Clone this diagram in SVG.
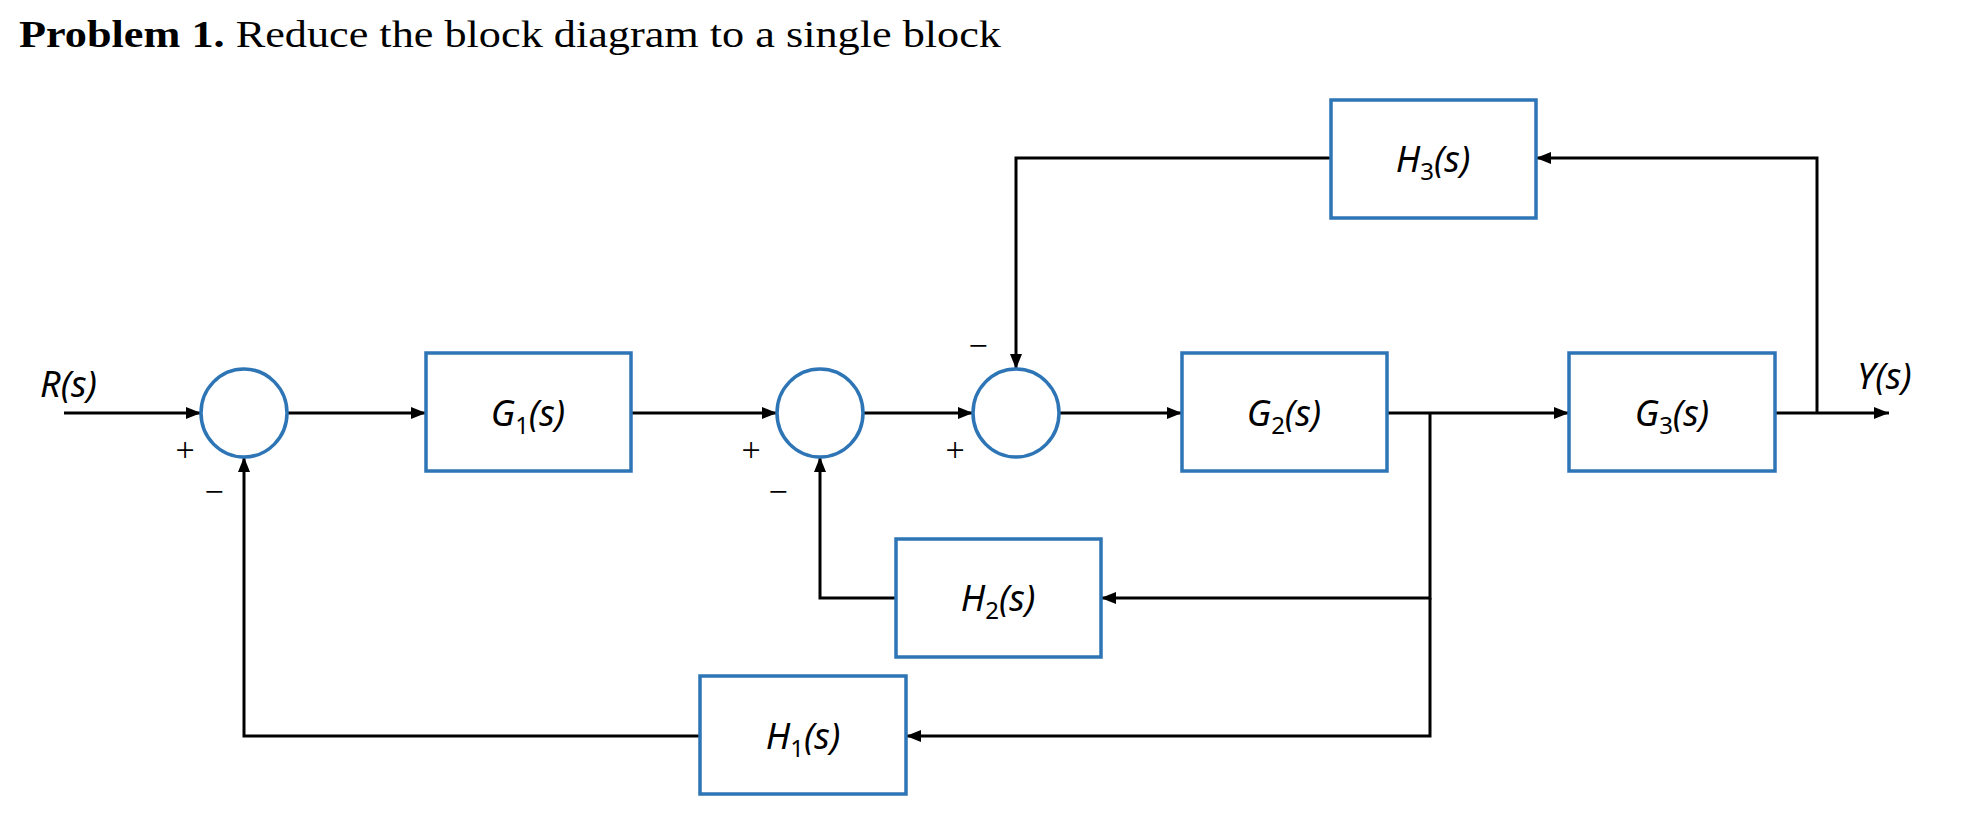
<svg xmlns="http://www.w3.org/2000/svg" width="1966" height="814" viewBox="0 0 1966 814">
<style>
.blk{fill:#fff;stroke:#2E75B6;stroke-width:3.5}
.ln{fill:none;stroke:#000;stroke-width:3}
.m{font-family:"Noto Sans","DejaVu Sans",sans-serif;font-style:italic;font-size:36px;fill:#000}
.sub{font-style:normal;font-size:24px}
.sg{font-family:"Liberation Serif",serif;font-size:34px;fill:#000}
</style>
<defs><marker id="a" viewBox="0 0 10 10" refX="10" refY="5" markerWidth="5" markerHeight="5" orient="auto" markerUnits="strokeWidth"><path d="M0,1 L10,5 L0,9 z" fill="#000"/></marker></defs>
<rect width="1966" height="814" fill="#fff"/>
<text x="19" y="47" font-family="Liberation Serif,serif" font-size="38" textLength="982" lengthAdjust="spacingAndGlyphs"><tspan font-weight="bold">Problem 1.</tspan> Reduce the block diagram to a single block</text>
<g id="connectors" class="ln">
<line x1="64" y1="413" x2="201" y2="413" marker-end="url(#a)"/>
<line x1="287" y1="413" x2="426" y2="413" marker-end="url(#a)"/>
<line x1="631" y1="413" x2="777" y2="413" marker-end="url(#a)"/>
<line x1="863" y1="413" x2="973" y2="413" marker-end="url(#a)"/>
<line x1="1059" y1="413" x2="1182" y2="413" marker-end="url(#a)"/>
<line x1="1387" y1="413" x2="1569" y2="413" marker-end="url(#a)"/>
<line x1="1775" y1="413" x2="1889" y2="413" marker-end="url(#a)"/>
<polyline points="1817,413 1817,158 1536,158" marker-end="url(#a)"/>
<polyline points="1331,158 1016,158 1016,369" marker-end="url(#a)"/>
<polyline points="1430,413 1430,598 1101,598" marker-end="url(#a)"/>
<polyline points="1430,598 1430,736 906,736" marker-end="url(#a)"/>
<polyline points="896,598 820,598 820,457" marker-end="url(#a)"/>
<polyline points="700,736 244,736 244,457" marker-end="url(#a)"/>
</g>
<g id="sum1"><ellipse class="blk" cx="244" cy="413" rx="43" ry="44"/></g>
<g id="sum2"><ellipse class="blk" cx="820" cy="413" rx="43" ry="44"/></g>
<g id="sum3"><ellipse class="blk" cx="1016" cy="413" rx="43" ry="44"/></g>
<g id="G1"><rect class="blk" x="426" y="353" width="205" height="118"/><text class="m" x="528" y="426" text-anchor="middle">G<tspan class="sub" dy="8">1</tspan><tspan dy="-8">(s)</tspan></text></g>
<g id="G2"><rect class="blk" x="1182" y="353" width="205" height="118"/><text class="m" x="1284" y="426" text-anchor="middle">G<tspan class="sub" dy="8">2</tspan><tspan dy="-8">(s)</tspan></text></g>
<g id="G3"><rect class="blk" x="1569" y="353" width="206" height="118"/><text class="m" x="1672" y="426" text-anchor="middle">G<tspan class="sub" dy="8">3</tspan><tspan dy="-8">(s)</tspan></text></g>
<g id="H3"><rect class="blk" x="1331" y="100" width="205" height="118"/><text class="m" x="1433" y="172" text-anchor="middle">H<tspan class="sub" dy="8">3</tspan><tspan dy="-8">(s)</tspan></text></g>
<g id="H2"><rect class="blk" x="896" y="539" width="205" height="118"/><text class="m" x="998" y="611" text-anchor="middle">H<tspan class="sub" dy="8">2</tspan><tspan dy="-8">(s)</tspan></text></g>
<g id="H1"><rect class="blk" x="700" y="676" width="206" height="118"/><text class="m" x="803" y="749" text-anchor="middle">H<tspan class="sub" dy="8">1</tspan><tspan dy="-8">(s)</tspan></text></g>
<text class="m" x="40" y="397">R(s)</text>
<text class="m" x="1857" y="389">Y(s)</text>
<g class="sg" text-anchor="middle">
<text x="185" y="461">+</text><text x="214" y="503">−</text>
<text x="751" y="461">+</text><text x="778" y="503">−</text>
<text x="955" y="461">+</text><text x="978" y="357">−</text>
</g>
</svg>
